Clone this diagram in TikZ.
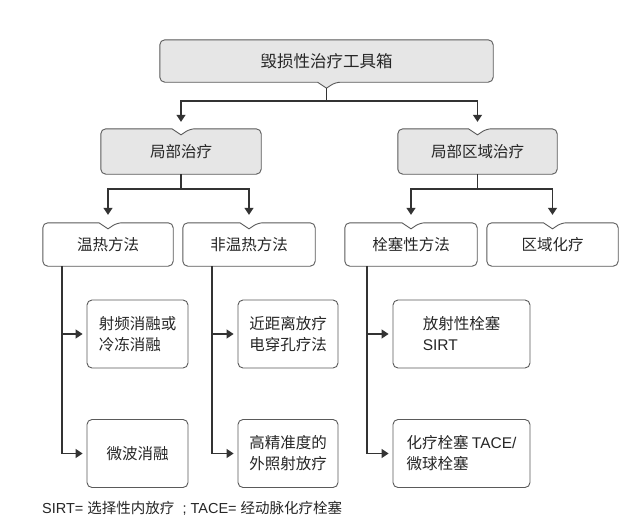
\documentclass[tikz,border=0pt]{standalone}
\usepackage{fontspec}
\setmainfont{Liberation Sans}
\newfontfamily\cjk{Noto Sans CJK SC}
\newfontfamily\lat{Liberation Sans}
\usetikzlibrary{arrows.meta,backgrounds}
\definecolor{boxfill}{HTML}{E6E6E6}
\definecolor{edgecol}{HTML}{5A5A5A}
\definecolor{conncol}{HTML}{333333}
\newcommand\notchtop[2]{%
  \path[outline, fill=#2] ([yshift=-6pt]#1.north) -- ([xshift=-9pt]#1.north)
    [rounded corners=5pt] -- (#1.north west) -- (#1.south west) -- (#1.south east)
    -- (#1.north east) -- ([xshift=9pt]#1.north) [sharp corners] -- cycle;}
\begin{document}
\begin{tikzpicture}[x=1pt,y=-1pt,
  txt/.style={inner sep=0pt, align=center, font=\cjk\fontsize{15.5}{21}\selectfont, text=black!85},
  outline/.style={draw=edgecol, line width=0.9pt},
  leaf/.style={txt, align=left, draw=edgecol, line width=0.9pt, rounded corners=5pt, fill=white,
     minimum height=68pt},
  conn/.style={draw=conncol, line width=1.1pt},
  arr/.style={conn, -{Triangle[width=9pt,length=7pt]}}]
\useasboundingbox (0,0) rectangle (640,523);

% root
\node[txt, minimum width=333pt, minimum height=42pt, font=\cjk\fontsize{16.5}{20}\selectfont] (root) at (326.5,61) {毁损性治疗工具箱};
% level 2
\node[txt, minimum width=160pt, minimum height=45pt] (loc) at (181,151.5) {局部治疗};
\node[txt, minimum width=159pt, minimum height=45pt] (reg) at (477.5,151.5) {局部区域治疗};
% level 3
\node[txt, minimum width=130pt, minimum height=43pt] (therm) at (108,244.5) {温热方法};
\node[txt, minimum width=132pt, minimum height=43pt] (nontherm) at (249,244.5) {非温热方法};
\node[txt, minimum width=132pt, minimum height=43pt] (embo) at (411,244.5) {栓塞性方法};
\node[txt, minimum width=131pt, minimum height=43pt] (regchemo) at (552.5,244.5) {区域化疗};
% leaves
\node[leaf, minimum width=101pt] (rfa) at (137.5,334) {射频消融或\\冷冻消融};
\node[leaf, minimum width=101pt] (mwa) at (137.5,453.5) {微波消融};
\node[leaf, minimum width=100pt] (brachy) at (288,334) {近距离放疗\\电穿孔疗法};
\node[leaf, minimum width=100pt] (ebrt) at (288,453.5) {高精准度的\\外照射放疗};
\node[leaf, minimum width=137pt] (sirt) at (461.5,334) {放射性栓塞\\\lat SIRT};
\node[leaf, minimum width=137pt] (tace) at (461.5,453.5) {化疗栓塞 {\lat TACE/}\\微球栓塞};
% footnote
\node[anchor=west, inner sep=0pt, font=\lat\fontsize{14.5}{16}\selectfont, text=black!85] (note) at (42,508)
  {SIRT= {\cjk 选择性内放疗}\ \ ;\ TACE= {\cjk 经动脉化疗栓塞}};

\begin{pgfonlayer}{background}
  \fill[white] (0,0) rectangle (640,523);
  \path[outline, fill=boxfill] ([yshift=-6pt]root.south) -- ([xshift=-9pt]root.south)
    [rounded corners=5pt] -- (root.south west) -- (root.north west) -- (root.north east)
    -- (root.south east) -- ([xshift=9pt]root.south) [sharp corners] -- cycle;
  \notchtop{loc}{boxfill}
  \notchtop{reg}{boxfill}
  \notchtop{therm}{white}
  \notchtop{nontherm}{white}
  \notchtop{embo}{white}
  \notchtop{regchemo}{white}
\end{pgfonlayer}

% connectors
\coordinate (j1) at (326.5,101);
\draw[conn] ([yshift=-6pt]root.south) -- (j1);
\draw[arr] (j1) -| ([yshift=7pt]loc.north);
\draw[arr] (j1) -| ([yshift=7pt]reg.north);

\coordinate (j2) at (181,189);
\draw[conn] (loc.south) -- (j2);
\draw[arr] (j2) -| ([yshift=8pt]therm.north);
\draw[arr] (j2) -| ([yshift=8pt]nontherm.north);

\coordinate (j3) at (477.5,189);
\draw[conn] (reg.south) -- (j3);
\draw[arr] (j3) -| ([yshift=8pt]embo.north);
\draw[arr] (j3) -| ([yshift=8pt]regchemo.north);

\coordinate (v1) at ([xshift=-46pt]therm.south);
\coordinate (v2) at ([xshift=-37pt]nontherm.south);
\coordinate (v3) at ([xshift=-44pt]embo.south);
\draw[arr] (v1) |- ([xshift=-4pt]mwa.west);
\draw[arr] (rfa.west -| v1) -- ([xshift=-4pt]rfa.west);
\draw[arr] (v2) |- ([xshift=-4pt]ebrt.west);
\draw[arr] (brachy.west -| v2) -- ([xshift=-4pt]brachy.west);
\draw[arr] (v3) |- ([xshift=-4pt]tace.west);
\draw[arr] (sirt.west -| v3) -- ([xshift=-4pt]sirt.west);
\end{tikzpicture}
\end{document}
